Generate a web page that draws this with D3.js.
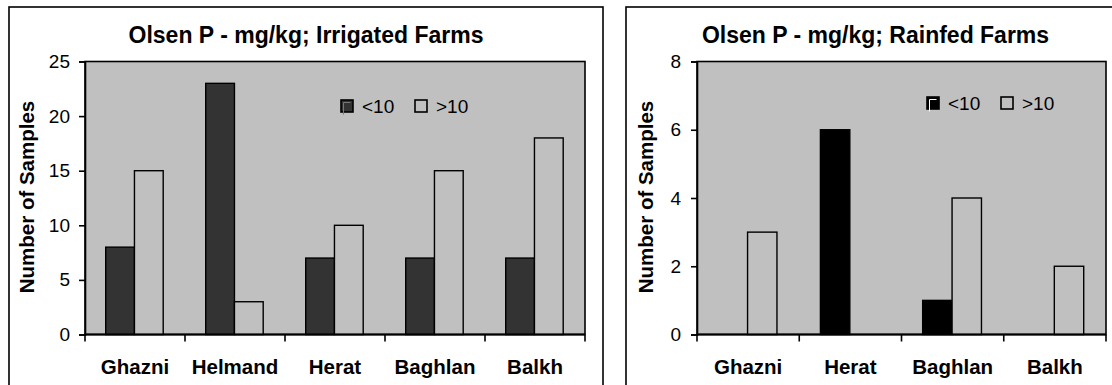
<!DOCTYPE html>
<meta charset="utf-8">
<style>
  body { margin: 0; background: #fff; }
  svg text { font-family: "Liberation Sans", Arial, sans-serif; fill: #000; }
</style>
<script src="https://cdnjs.cloudflare.com/ajax/libs/d3/7.8.5/d3.min.js"></script>
<div id="viz"></div>
<script>
// data
const series = ["<10", ">10"];

const irrigatedCats = ["Ghazni", "Helmand", "Herat", "Baghlan", "Balkh"];
const irrigatedLow  = [8, 23, 7, 7, 7];
const irrigatedHigh = [15, 3, 10, 15, 18];
const irrigatedTicks = [0, 5, 10, 15, 20, 25];

const rainfedCats = ["Ghazni", "Herat", "Baghlan", "Balkh"];
const rainfedLow  = [0, 6, 1, 0];
const rainfedHigh = [3, 0, 4, 2];
const rainfedTicks = [0, 2, 4, 6, 8];

const svg = d3.select("#viz").append("svg")
    .attr("width", 1112)
    .attr("height", 385);

const drawChart = (opt) => {
  const g = svg.append("g");

  // outer chart frame
  g.append("rect")
    .attr("x", opt.frame[0]).attr("y", 7)
    .attr("width", opt.frame[1] - opt.frame[0]).attr("height", 400)
    .attr("fill", "#fff").attr("stroke", "#000").attr("stroke-width", 1.6);

  const x = d3.scaleBand().domain(opt.cats).range([opt.left, opt.right]);
  const y = d3.scaleLinear().domain([0, opt.max]).range([334.5, 61.5]);
  const inner = d3.scaleBand().domain(series)
    .range([x.bandwidth() * 0.207, x.bandwidth() * 0.782]);

  // plot area
  g.append("rect")
    .attr("x", opt.left).attr("y", y(opt.max))
    .attr("width", opt.right - opt.left).attr("height", y(0) - y(opt.max))
    .attr("fill", "#c0c0c0").attr("stroke", "#000").attr("stroke-width", 1.6);

  const rows = opt.cats.map((c, i) => ({cat: c, vals: [opt.low[i], opt.high[i]]}));

  g.selectAll(".grp")
    .data(rows)
    .enter().append("g")
      .attr("transform", d => "translate(" + x(d.cat) + ",0)")
    .selectAll("rect")
    .data(d => d.vals.map((v, k) => ({key: series[k], value: v})).filter(e => e.value > 0))
    .enter().append("rect")
      .attr("x", d => inner(d.key))
      .attr("y", d => y(d.value))
      .attr("width", inner.bandwidth())
      .attr("height", d => y(0) - y(d.value))
      .attr("fill", d => d.key == "<10" ? opt.dark : "#c0c0c0")
      .attr("stroke", "#000")
      .attr("stroke-width", 1.4);

  // y axis
  const yAxis = g.append("g")
    .attr("transform", "translate(" + opt.left + ",0)")
    .call(d3.axisLeft(y).tickValues(opt.ticks).tickSize(6).tickPadding(opt.pad));
  yAxis.select(".domain").attr("stroke", "#000").attr("stroke-width", 1.6);
  yAxis.selectAll(".tick line").attr("stroke", "#000").attr("stroke-width", 1.6);
  yAxis.selectAll("text").attr("font-size", 19).attr("font-family", "Liberation Sans, Arial, sans-serif").attr("fill", "#000");

  // x axis: ticks on band boundaries, labels centred
  const bounds = opt.cats.map(c => x(c)).concat([x.range()[1]]);
  g.append("line")
    .attr("x1", opt.left).attr("x2", opt.right)
    .attr("y1", y(0)).attr("y2", y(0))
    .attr("stroke", "#000").attr("stroke-width", 1.8);
  g.selectAll(".xtick")
    .data(bounds)
    .enter().append("line")
      .attr("x1", d => d).attr("x2", d => d)
      .attr("y1", y(0)).attr("y2", y(0) + 7)
      .attr("stroke", "#000").attr("stroke-width", 1.6);
  g.selectAll(".xlab")
    .data(opt.cats)
    .enter().append("text")
      .attr("x", d => x(d) + x.bandwidth() / 2)
      .attr("y", 374)
      .attr("text-anchor", "middle")
      .attr("font-size", 20.5)
      .attr("font-weight", "bold")
      .text(d => d);

  // titles
  g.append("text")
    .attr("x", (opt.frame[0] + opt.frame[1]) / 2)
    .attr("y", 43)
    .attr("text-anchor", "middle")
    .attr("font-size", 23)
    .attr("font-weight", "bold")
    .text(opt.title);

  g.append("text")
    .attr("transform", "translate(" + opt.ytitleX + "," + 197 + ") rotate(-90)")
    .attr("dy", "0.35em")
    .attr("text-anchor", "middle")
    .attr("font-size", 20.5)
    .attr("font-weight", "bold")
    .text("Number of Samples");

  // legend
  const leg = g.append("g").attr("transform", "translate(" + opt.legend[0] + "," + opt.legend[1] + ")");
  const item = leg.selectAll("g")
    .data(series)
    .enter().append("g")
      .attr("transform", (d, i) => "translate(" + i * 74 + ",0)");
  item.append("rect")
    .attr("x", 0).attr("y", -6).attr("width", 12).attr("height", 12)
    .attr("fill", (d, i) => i == 0 ? opt.dark : "#c0c0c0")
    .attr("stroke", "#000").attr("stroke-width", 1.6);
  // little highlight inside the dark swatch, like the original
  item.filter((d, i) => i == 0).append("path")
    .attr("d", "M2.5,8.5V-3.5H9.5")
    .attr("fill", "none").attr("stroke", opt.glint).attr("stroke-width", 1);
  item.append("text")
    .attr("x", 21).attr("y", 7)
    .attr("font-size", 19)
    .text(d => d);
};

drawChart({
  cats: irrigatedCats, low: irrigatedLow, high: irrigatedHigh, ticks: irrigatedTicks,
  max: 25, left: 85, right: 585, frame: [9, 603], pad: 9, ytitleX: 27,
  dark: "#333333", glint: "#777", legend: [341, 106],
  title: "Olsen P - mg/kg; Irrigated Farms"
});

drawChart({
  cats: rainfedCats, low: rainfedLow, high: rainfedHigh, ticks: rainfedTicks,
  max: 8, left: 697, right: 1106, frame: [626, 1125], pad: 10, ytitleX: 646,
  dark: "#000000", glint: "#fff", legend: [927, 103],
  title: "Olsen P - mg/kg; Rainfed Farms"
});
</script>
